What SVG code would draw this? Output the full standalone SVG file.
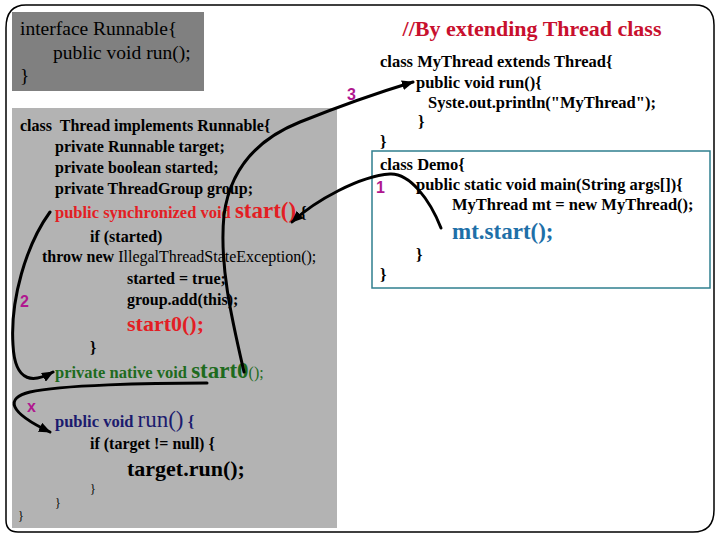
<svg xmlns="http://www.w3.org/2000/svg" width="720" height="540" viewBox="0 0 720 540">
<style>
text{font-family:"Liberation Serif","Times New Roman",serif;fill:#000}
.r{font-size:19.5px}
.b{font-size:16px;font-weight:bold}
.n{font-size:16px}
.rt{font-size:16.5px;font-weight:bold}
.sm{font-size:12px}
.lab{font-family:"Liberation Sans",Arial,sans-serif;font-weight:bold;font-size:16px;fill:#b0178f}
.con{fill:none;stroke:#000;stroke-width:3;stroke-linecap:round}
</style>
<defs>
<marker id="ah" viewBox="0 0 12 10" refX="11" refY="5" markerWidth="12" markerHeight="10" markerUnits="userSpaceOnUse" orient="auto">
<path d="M0,0 L12,5 L0,10 Z" fill="#000"/>
</marker>
</defs>
<rect width="720" height="540" fill="#fff"/>
<path id="frame" d="M26,5 H695 Q714,5 714,25 V510 Q714,532 693,532 H18 Q6,532 6,520 V28 Q6,5 26,5 Z" fill="none" stroke="#000" stroke-width="1.5"/>

<g id="runnable">
<rect x="12" y="12" width="192" height="79" fill="#808080"/>
<text class="r" x="20" y="35">interface Runnable{</text>
<text class="r" x="53" y="59">public void run();</text>
<text class="r" x="20" y="82">}</text>
</g>

<g id="thread">
<rect x="12" y="108" width="325" height="420" fill="#b3b3b3"/>
<text class="b" x="20" y="131" xml:space="preserve">class  Thread implements Runnable{</text>
<text class="b" x="55" y="152">private Runnable target;</text>
<text class="b" x="55" y="173">private boolean started;</text>
<text class="b" x="55" y="194">private ThreadGroup group;</text>
<text x="55" y="218"><tspan style="font-size:16.5px;font-weight:bold;fill:#e31e24">public synchronized void </tspan><tspan style="font-size:23px;font-weight:bold;fill:#e31e24">start()</tspan><tspan style="font-size:16px;font-weight:bold"> {</tspan></text>
<text class="b" x="90" y="242">if (started)</text>
<text x="42" y="262"><tspan class="b">throw new </tspan><tspan class="n">IllegalThreadStateException();</tspan></text>
<text class="b" x="127" y="284">started = true;</text>
<text class="b" x="127" y="305">group.add(this);</text>
<text x="127" y="331" style="font-size:22px;font-weight:bold;fill:#e31e24">start0();</text>
<text class="b" x="90" y="353">}</text>
<text x="55" y="378"><tspan style="font-size:16.5px;font-weight:bold;fill:#1e6b1e">private native void </tspan><tspan style="font-size:23px;font-weight:bold;fill:#1e6b1e">start0</tspan><tspan style="font-size:16px;fill:#1e6b1e">();</tspan></text>
<text x="55" y="427"><tspan style="font-size:16.5px;font-weight:bold;fill:#1b1b6e">public void </tspan><tspan style="font-size:23px;fill:#1b1b6e">run()</tspan><tspan style="font-size:16.5px;font-weight:bold;fill:#1b1b6e"> {</tspan></text>
<text class="b" x="90" y="449">if (target != null) {</text>
<text x="127" y="476" style="font-size:22px;font-weight:bold">target.run();</text>
<text class="sm" x="90" y="493">}</text>
<text class="sm" x="55" y="507">}</text>
<text class="sm" x="18" y="520">}</text>
</g>

<g id="heading">
<text x="532" y="36" text-anchor="middle" style="font-size:22px;font-weight:bold;fill:#c8102e">//By extending Thread class</text>
</g>

<g id="mythread">
<text class="rt" x="380" y="67">class MyThread extends Thread{</text>
<text class="rt" x="416" y="88">public void run(){</text>
<text class="rt" x="428" y="108">Syste.out.println("MyThread");</text>
<text class="rt" x="418" y="127">}</text>
<text class="rt" x="380" y="147">}</text>
</g>

<g id="demo">
<rect x="372" y="151" width="338" height="137" fill="#fff" stroke="#2f7f8f" stroke-width="1.5"/>
<text class="rt" x="380" y="170">class Demo{</text>
<text class="rt" x="416" y="190">public static void main(String args[]){</text>
<text class="rt" x="452" y="210">MyThread mt = new MyThread();</text>
<text x="452" y="239" style="font-size:23px;font-weight:bold;fill:#1e6fa8">mt.start();</text>
<text class="rt" x="416" y="260">}</text>
<text class="rt" x="380" y="280">}</text>
</g>

<g id="labels">
<text class="lab" x="347" y="100">3</text>
<text class="lab" x="376" y="193">1</text>
<text class="lab" x="20" y="307">2</text>
<text class="lab" x="27" y="412">x</text>
</g>

<g id="connectors">
<path class="con" d="M441,228 C430,200 410,173 390,174 C360,176 316,200 292,222" marker-end="url(#ah)"/>
<path class="con" d="M50,212 C26,245 10,300 13,345 C15,385 35,382 53,372" marker-end="url(#ah)"/>
<path class="con" d="M244,372 C232,320 219,265 224,215 C230,170 255,140 300,122 S380,92 413,82" marker-end="url(#ah)"/>
<path class="con" d="M207,383 C150,383 60,385 30,392 C5,398 8,412 50,432" marker-end="url(#ah)"/>
</g>
</svg>
